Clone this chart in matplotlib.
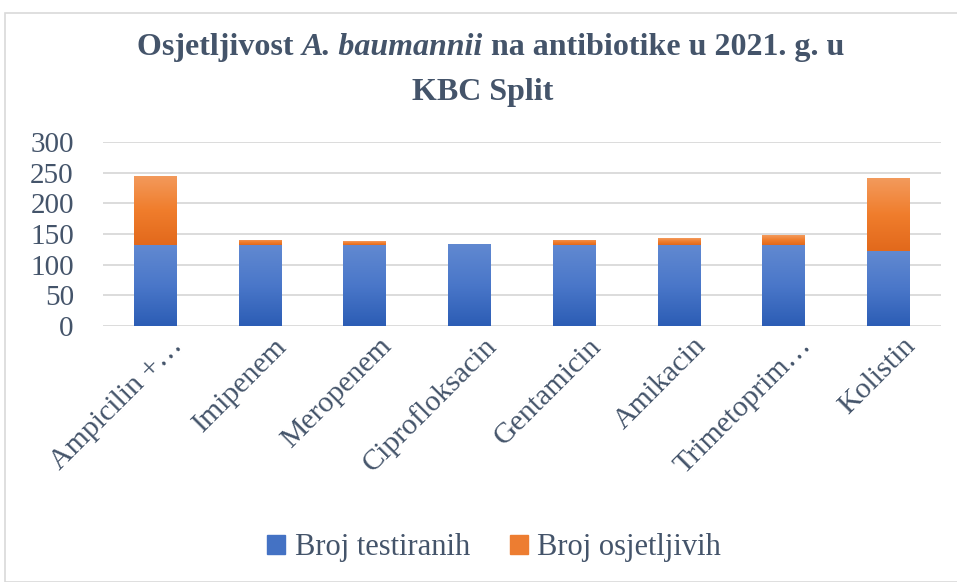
import numpy as np
import matplotlib
matplotlib.use("Agg")
import matplotlib.pyplot as plt
from matplotlib.colors import LinearSegmentedColormap
from matplotlib.patches import Rectangle, Patch
import matplotlib.transforms as mtransforms

# Podaci
antibiotici = ['Ampicilin +…', 'Imipenem', 'Meropenem', 'Ciprofloksacin',
               'Gentamicin', 'Amikacin', 'Trimetoprim…', 'Kolistin']
broj_testiranih = [132, 132, 132, 134, 132, 132, 132, 122]
broj_osjetljivih = [113, 9, 6, 0, 9, 11, 16, 119]
y_ticks = [0, 50, 100, 150, 200, 250, 300]

plt.rcParams['font.family'] = ['Liberation Serif', 'DejaVu Serif']

tekst = '#44546A'
grid_boja = '#D9D9D9'

W, H = 957, 582
fig = plt.figure(figsize=(W / 100, H / 100), dpi=100)
ax = fig.add_axes([103 / W, 1 - 326 / H, 838 / W, 184 / H])

# okvir grafikona
fig.patches.append(Rectangle((5 / W, 0), 1.2, 1 - 13 / H, transform=fig.transFigure,
                             fill=False, edgecolor=grid_boja, linewidth=1.2))

x = np.arange(len(antibiotici))
sirina = 0.41

plava = LinearSegmentedColormap.from_list('plava', ['#2c5db5', '#4a77c9', '#6189d1'])
narancasta = LinearSegmentedColormap.from_list('nar', ['#e2691c', '#f07d2c', '#f39a5c'])
grad = np.linspace(0, 1, 100).reshape(-1, 1)

b1 = ax.bar(x, broj_testiranih, sirina, color='#4472C4', zorder=2)
b2 = ax.bar(x, broj_osjetljivih, sirina, bottom=broj_testiranih, color='#ED7D31', zorder=2)

# gradijent u stupcima
for bars, cmap in ((b1, plava), (b2, narancasta)):
    for p in bars:
        if p.get_height() <= 0:
            continue
        x0, y0 = p.get_x(), p.get_y()
        im = ax.imshow(grad, cmap=cmap, origin='lower', aspect='auto', zorder=3,
                       extent=[x0, x0 + p.get_width(), y0, y0 + p.get_height()])
        im.set_clip_path(p)

ax.set_xlim(-0.5, len(antibiotici) - 0.5)
ax.set_ylim(0, 300)
ax.set_yticks(y_ticks)
ax.set_xticks(x)
ax.tick_params(axis='y', labelsize=21, labelcolor=tekst, length=0, pad=21)
ax.tick_params(axis='x', length=0, pad=0)
ax.set_xticklabels(antibiotici, rotation=45, ha='right', va='baseline',
                   rotation_mode='anchor', fontsize=21.5, color=tekst)
offset = mtransforms.ScaledTranslation(0.28, -0.21, fig.dpi_scale_trans)
for lab in ax.get_xticklabels():
    lab.set_transform(lab.get_transform() + offset)
ax.grid(axis='y', color=grid_boja, linewidth=1.3, zorder=0)
ax.set_axisbelow(True)
for s in ax.spines.values():
    s.set_visible(False)

# naslov s kurzivom za ime bakterije
dijelovi = [('Osjetljivost ', 'normal'), ('A. baumannii', 'italic'),
            (' na antibiotike u 2021. g. u', 'normal')]
renderer = fig.canvas.get_renderer()
tekstovi = []
for s, stil in dijelovi:
    t = fig.text(0, 1 - 55 / H, s, ha='left', va='baseline', fontsize=23,
                 fontweight='bold', style=stil, color=tekst)
    tekstovi.append(t)
sirine = [t.get_window_extent(renderer).width for t in tekstovi]
xp = (W - sum(sirine)) / 2 + 12
for t, w in zip(tekstovi, sirine):
    t.set_x(xp / W)
    xp += w
fig.text(0.5 + 4 / W, 1 - 100 / H, 'KBC Split', ha='center', va='baseline',
         fontsize=23, fontweight='bold', color=tekst)

handles = [Patch(color='#4472C4'), Patch(color='#ED7D31')]
fig.legend(handles, ['Broj testiranih', 'Broj osjetljivih'], loc='center',
           bbox_to_anchor=(494 / W, 1 - 548 / H), ncol=2, frameon=False,
           fontsize=22, labelcolor=tekst, handlelength=0.6, handleheight=0.6,
           handletextpad=0.3, columnspacing=1.3)

fig.savefig('out.png', dpi=100, facecolor='white')
